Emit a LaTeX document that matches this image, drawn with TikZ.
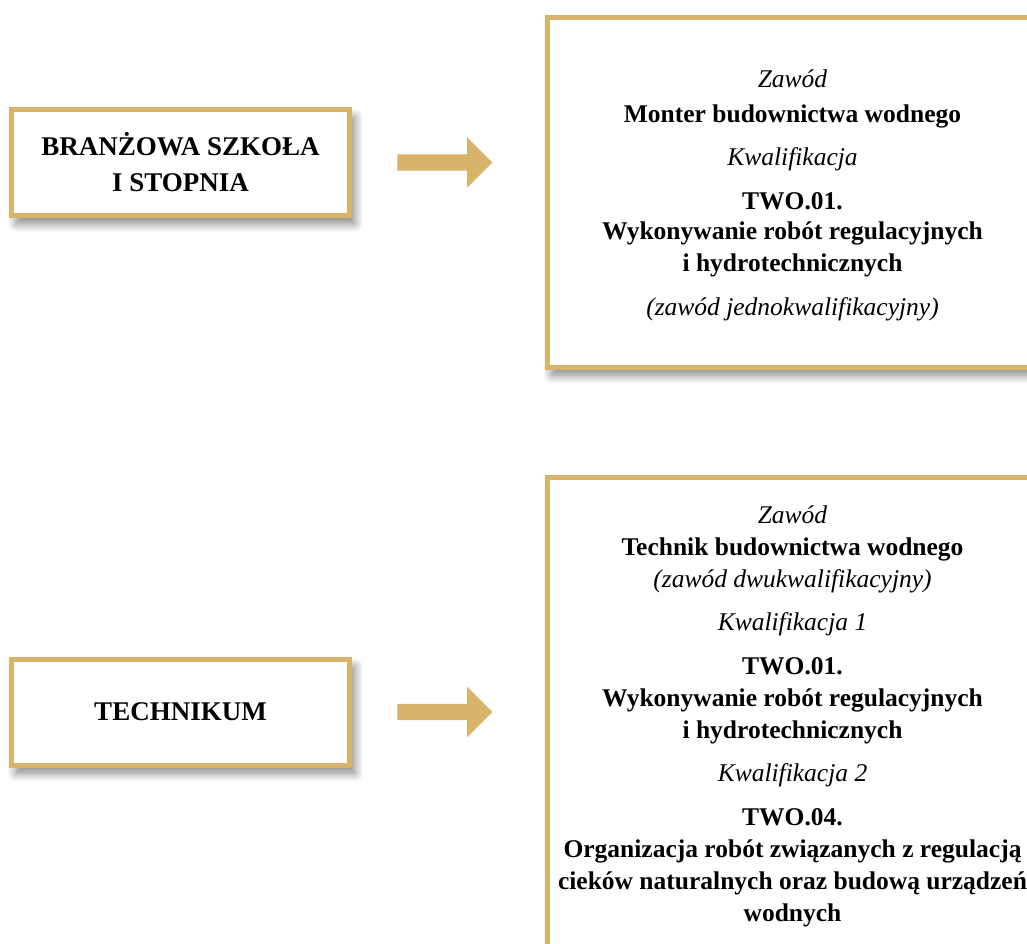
\documentclass[tikz,border=0pt]{standalone}
\usepackage{fontspec}
\setmainfont{Liberation Serif}
\usetikzlibrary{shapes.arrows,shadows.blur}
\definecolor{zloty}{RGB}{215,180,106}

\begin{document}
\begin{tikzpicture}[x=1pt, y=1pt,
    cien/.style={blur shadow={shadow xshift=5pt, shadow yshift=-8pt, shadow blur radius=9pt, shadow blur steps=14, shadow opacity=50}},
    szkola/.style={draw=zloty, line width=5pt, fill=white, cien, minimum width=338pt, minimum height=106pt,
      inner sep=0pt, align=center, font=\bfseries\fontsize{27}{36}\selectfont},
    ramka/.style={draw=zloty, line width=5pt, fill=white, cien, minimum width=491pt, inner sep=0pt, anchor=north west},
    opis/.style={anchor=north, align=center, inner sep=0pt, font=\fontsize{25.5}{32}\selectfont},
    strzalka/.style={single arrow, fill=zloty, draw=none, single arrow head extend=17pt,
      single arrow tip angle=90, minimum height=95pt, inner xsep=0pt, inner ysep=8pt}]
  \useasboundingbox (0,0) rectangle (1027,-944);

  % Typy szkol
  \node[szkola] (szkola1) at (180.5,-162.5) {BRANŻOWA SZKOŁA\\I STOPNIA};
  \node[szkola] (szkola2) at (180.5,-712) {TECHNIKUM};

  % Ramki z zawodami
  \node[ramka, minimum height=349pt] (zawod1) at (544.5,-15.5) {};
  \node[ramka, minimum height=520pt] (zawod2) at (544.5,-474.5) {};

  \node[opis] (opis1) at ([yshift=-54pt]zawod1.north) {%
    \textit{Zawód}\\[3pt]
    \textbf{Monter budownictwa wodnego}\\[11pt]
    \textit{Kwalifikacja}\\[12pt]
    \textbf{TWO.01.}\\[-2pt]
    \textbf{Wykonywanie robót regulacyjnych}\\
    \textbf{i hydrotechnicznych}\\[12pt]
    \textit{(zawód jednokwalifikacyjny)}};

  \node[opis] (opis2) at ([yshift=-31pt]zawod2.north) {%
    \textit{Zawód}\\
    \textbf{Technik budownictwa wodnego}\\
    \textit{(zawód dwukwalifikacyjny)}\\[11pt]
    \textit{Kwalifikacja 1}\\[12pt]
    \textbf{TWO.01.}\\
    \textbf{Wykonywanie robót regulacyjnych}\\
    \textbf{i hydrotechnicznych}\\[11pt]
    \textit{Kwalifikacja 2}\\[12pt]
    \textbf{TWO.04.}\\
    \textbf{Organizacja robót związanych z regulacją}\\
    \textbf{cieków naturalnych oraz budową urządzeń}\\
    \textbf{wodnych}};

  % Strzalki
  \path (szkola1.east) -- (szkola1.east -| zawod1.west) node[midway, xshift=-7.5pt, strzalka] (strz1) {};
  \path (szkola2.east) -- (szkola2.east -| zawod2.west) node[midway, xshift=-7.5pt, strzalka] (strz2) {};
\end{tikzpicture}
\end{document}
